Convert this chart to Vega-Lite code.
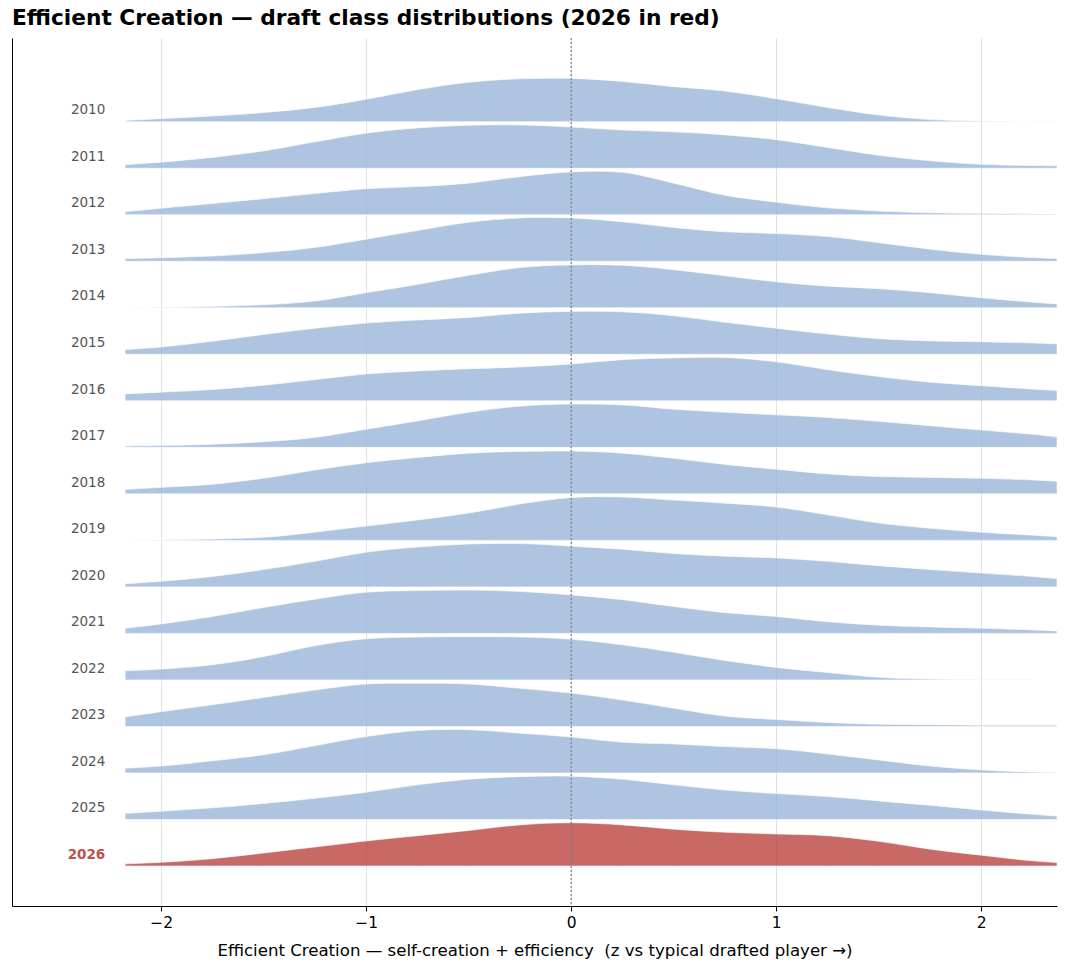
{
"$schema": "https://vega.github.io/schema/vega-lite/v6.json",
"width": 1045, "height": 868,
"autosize": {"type": "none"},
"padding": {"left": 12, "top": 38, "right": 10, "bottom": 66},
"background": "white",
"title": {"text": "Efficient Creation — draft class distributions (2026 in red)", "anchor": "start", "frame": "group", "fontSize": 21.7, "fontWeight": "bold", "font": "DejaVu Sans", "color": "#000000", "offset": -14.5, "baseline": "bottom"},
"config": {"font": "DejaVu Sans", "view": {"stroke": null},
 "axisX": {"domainColor": "#000000", "domainWidth": 1, "tickColor": "#000000", "tickSize": 5, "tickWidth": 1, "labelFontSize": 15.5, "labelColor": "#000000", "labelPadding": 4, "titleFontSize": 16.6, "titleFontWeight": "normal", "titleColor": "#000000", "titlePadding": 12, "grid": true, "gridColor": "#dde1e6", "gridWidth": 1, "labelFont": "DejaVu Sans", "titleFont": "DejaVu Sans"}},
"datasets": {"labels": [{"year":2010},{"year":2011},{"year":2012},{"year":2013},{"year":2014},{"year":2015},{"year":2016},{"year":2017},{"year":2018},{"year":2019},{"year":2020},{"year":2021},{"year":2022},{"year":2023},{"year":2024},{"year":2025},{"year":2026}],
"ridges": [
{"year":2010,"x":-2.176,"d":0.03},{"year":2010,"x":-2,"d":0.07},{"year":2010,"x":-1.75,"d":0.13},{"year":2010,"x":-1.5,"d":0.21},{"year":2010,"x":-1.25,"d":0.33},{"year":2010,"x":-1,"d":0.52},{"year":2010,"x":-0.75,"d":0.74},{"year":2010,"x":-0.5,"d":0.91},{"year":2010,"x":-0.25,"d":0.99},{"year":2010,"x":0,"d":1.0},{"year":2010,"x":0.25,"d":0.93},{"year":2010,"x":0.5,"d":0.81},{"year":2010,"x":0.75,"d":0.71},{"year":2010,"x":1,"d":0.53},{"year":2010,"x":1.25,"d":0.33},{"year":2010,"x":1.5,"d":0.155},{"year":2010,"x":1.75,"d":0.05},{"year":2010,"x":2,"d":0.015},{"year":2010,"x":2.25,"d":0.003},{"year":2010,"x":2.37,"d":0.001},
{"year":2011,"x":-2.176,"d":0.085},{"year":2011,"x":-2,"d":0.14},{"year":2011,"x":-1.75,"d":0.25},{"year":2011,"x":-1.5,"d":0.4},{"year":2011,"x":-1.25,"d":0.61},{"year":2011,"x":-1,"d":0.81},{"year":2011,"x":-0.75,"d":0.93},{"year":2011,"x":-0.5,"d":0.99},{"year":2011,"x":-0.25,"d":1.0},{"year":2011,"x":0,"d":0.95},{"year":2011,"x":0.25,"d":0.88},{"year":2011,"x":0.5,"d":0.84},{"year":2011,"x":0.75,"d":0.77},{"year":2011,"x":1,"d":0.66},{"year":2011,"x":1.25,"d":0.48},{"year":2011,"x":1.5,"d":0.3},{"year":2011,"x":1.75,"d":0.17},{"year":2011,"x":2,"d":0.09},{"year":2011,"x":2.25,"d":0.06},{"year":2011,"x":2.37,"d":0.055},
{"year":2012,"x":-2.176,"d":0.07},{"year":2012,"x":-2,"d":0.15},{"year":2012,"x":-1.75,"d":0.26},{"year":2012,"x":-1.5,"d":0.37},{"year":2012,"x":-1.25,"d":0.49},{"year":2012,"x":-1,"d":0.6},{"year":2012,"x":-0.75,"d":0.65},{"year":2012,"x":-0.5,"d":0.73},{"year":2012,"x":-0.25,"d":0.88},{"year":2012,"x":0,"d":0.99},{"year":2012,"x":0.25,"d":0.98},{"year":2012,"x":0.5,"d":0.73},{"year":2012,"x":0.75,"d":0.45},{"year":2012,"x":1,"d":0.29},{"year":2012,"x":1.25,"d":0.16},{"year":2012,"x":1.5,"d":0.085},{"year":2012,"x":1.75,"d":0.045},{"year":2012,"x":2,"d":0.03},{"year":2012,"x":2.25,"d":0.02},{"year":2012,"x":2.37,"d":0.015},
{"year":2013,"x":-2.176,"d":0.06},{"year":2013,"x":-2,"d":0.08},{"year":2013,"x":-1.75,"d":0.12},{"year":2013,"x":-1.5,"d":0.2},{"year":2013,"x":-1.25,"d":0.32},{"year":2013,"x":-1,"d":0.51},{"year":2013,"x":-0.75,"d":0.71},{"year":2013,"x":-0.5,"d":0.9},{"year":2013,"x":-0.25,"d":1.0},{"year":2013,"x":0,"d":1.0},{"year":2013,"x":0.25,"d":0.91},{"year":2013,"x":0.5,"d":0.78},{"year":2013,"x":0.75,"d":0.68},{"year":2013,"x":1,"d":0.64},{"year":2013,"x":1.25,"d":0.57},{"year":2013,"x":1.5,"d":0.43},{"year":2013,"x":1.75,"d":0.28},{"year":2013,"x":2,"d":0.16},{"year":2013,"x":2.25,"d":0.085},{"year":2013,"x":2.37,"d":0.06},
{"year":2014,"x":-2.176,"d":0.0},{"year":2014,"x":-2,"d":0.01},{"year":2014,"x":-1.75,"d":0.03},{"year":2014,"x":-1.5,"d":0.07},{"year":2014,"x":-1.25,"d":0.155},{"year":2014,"x":-1,"d":0.35},{"year":2014,"x":-0.75,"d":0.54},{"year":2014,"x":-0.5,"d":0.75},{"year":2014,"x":-0.25,"d":0.93},{"year":2014,"x":0,"d":0.99},{"year":2014,"x":0.25,"d":0.98},{"year":2014,"x":0.5,"d":0.88},{"year":2014,"x":0.75,"d":0.74},{"year":2014,"x":1,"d":0.6},{"year":2014,"x":1.25,"d":0.5},{"year":2014,"x":1.5,"d":0.44},{"year":2014,"x":1.75,"d":0.35},{"year":2014,"x":2,"d":0.23},{"year":2014,"x":2.25,"d":0.13},{"year":2014,"x":2.37,"d":0.09},
{"year":2015,"x":-2.176,"d":0.11},{"year":2015,"x":-2,"d":0.17},{"year":2015,"x":-1.75,"d":0.3},{"year":2015,"x":-1.5,"d":0.46},{"year":2015,"x":-1.25,"d":0.6},{"year":2015,"x":-1,"d":0.72},{"year":2015,"x":-0.75,"d":0.79},{"year":2015,"x":-0.5,"d":0.85},{"year":2015,"x":-0.25,"d":0.95},{"year":2015,"x":0,"d":0.99},{"year":2015,"x":0.25,"d":0.98},{"year":2015,"x":0.5,"d":0.89},{"year":2015,"x":0.75,"d":0.74},{"year":2015,"x":1,"d":0.6},{"year":2015,"x":1.25,"d":0.47},{"year":2015,"x":1.5,"d":0.36},{"year":2015,"x":1.75,"d":0.31},{"year":2015,"x":2,"d":0.29},{"year":2015,"x":2.25,"d":0.26},{"year":2015,"x":2.37,"d":0.24},
{"year":2016,"x":-2.176,"d":0.16},{"year":2016,"x":-2,"d":0.2},{"year":2016,"x":-1.75,"d":0.26},{"year":2016,"x":-1.5,"d":0.36},{"year":2016,"x":-1.25,"d":0.49},{"year":2016,"x":-1,"d":0.62},{"year":2016,"x":-0.75,"d":0.69},{"year":2016,"x":-0.5,"d":0.74},{"year":2016,"x":-0.25,"d":0.78},{"year":2016,"x":0,"d":0.85},{"year":2016,"x":0.25,"d":0.95},{"year":2016,"x":0.5,"d":0.99},{"year":2016,"x":0.75,"d":1.0},{"year":2016,"x":1,"d":0.9},{"year":2016,"x":1.25,"d":0.72},{"year":2016,"x":1.5,"d":0.56},{"year":2016,"x":1.75,"d":0.43},{"year":2016,"x":2,"d":0.35},{"year":2016,"x":2.25,"d":0.27},{"year":2016,"x":2.37,"d":0.24},
{"year":2017,"x":-2.176,"d":0.03},{"year":2017,"x":-2,"d":0.04},{"year":2017,"x":-1.75,"d":0.07},{"year":2017,"x":-1.5,"d":0.13},{"year":2017,"x":-1.25,"d":0.23},{"year":2017,"x":-1,"d":0.42},{"year":2017,"x":-0.75,"d":0.61},{"year":2017,"x":-0.5,"d":0.81},{"year":2017,"x":-0.25,"d":0.95},{"year":2017,"x":0,"d":1.0},{"year":2017,"x":0.25,"d":0.98},{"year":2017,"x":0.5,"d":0.88},{"year":2017,"x":0.75,"d":0.81},{"year":2017,"x":1,"d":0.75},{"year":2017,"x":1.25,"d":0.69},{"year":2017,"x":1.5,"d":0.6},{"year":2017,"x":1.75,"d":0.5},{"year":2017,"x":2,"d":0.4},{"year":2017,"x":2.25,"d":0.3},{"year":2017,"x":2.37,"d":0.24},
{"year":2018,"x":-2.176,"d":0.1},{"year":2018,"x":-2,"d":0.15},{"year":2018,"x":-1.75,"d":0.22},{"year":2018,"x":-1.5,"d":0.36},{"year":2018,"x":-1.25,"d":0.55},{"year":2018,"x":-1,"d":0.72},{"year":2018,"x":-0.75,"d":0.84},{"year":2018,"x":-0.5,"d":0.94},{"year":2018,"x":-0.25,"d":0.98},{"year":2018,"x":0,"d":0.99},{"year":2018,"x":0.25,"d":0.94},{"year":2018,"x":0.5,"d":0.82},{"year":2018,"x":0.75,"d":0.68},{"year":2018,"x":1,"d":0.57},{"year":2018,"x":1.25,"d":0.46},{"year":2018,"x":1.5,"d":0.4},{"year":2018,"x":1.75,"d":0.38},{"year":2018,"x":2,"d":0.36},{"year":2018,"x":2.25,"d":0.32},{"year":2018,"x":2.37,"d":0.29},
{"year":2019,"x":-2.176,"d":0.0},{"year":2019,"x":-2,"d":0.01},{"year":2019,"x":-1.75,"d":0.03},{"year":2019,"x":-1.5,"d":0.07},{"year":2019,"x":-1.25,"d":0.19},{"year":2019,"x":-1,"d":0.33},{"year":2019,"x":-0.75,"d":0.47},{"year":2019,"x":-0.5,"d":0.63},{"year":2019,"x":-0.25,"d":0.84},{"year":2019,"x":0,"d":0.99},{"year":2019,"x":0.25,"d":1.0},{"year":2019,"x":0.5,"d":0.93},{"year":2019,"x":0.75,"d":0.86},{"year":2019,"x":1,"d":0.77},{"year":2019,"x":1.25,"d":0.59},{"year":2019,"x":1.5,"d":0.4},{"year":2019,"x":1.75,"d":0.28},{"year":2019,"x":2,"d":0.19},{"year":2019,"x":2.25,"d":0.12},{"year":2019,"x":2.37,"d":0.085},
{"year":2020,"x":-2.176,"d":0.07},{"year":2020,"x":-2,"d":0.13},{"year":2020,"x":-1.75,"d":0.24},{"year":2020,"x":-1.5,"d":0.4},{"year":2020,"x":-1.25,"d":0.59},{"year":2020,"x":-1,"d":0.8},{"year":2020,"x":-0.75,"d":0.92},{"year":2020,"x":-0.5,"d":0.99},{"year":2020,"x":-0.25,"d":1.0},{"year":2020,"x":0,"d":0.94},{"year":2020,"x":0.25,"d":0.87},{"year":2020,"x":0.5,"d":0.77},{"year":2020,"x":0.75,"d":0.71},{"year":2020,"x":1,"d":0.67},{"year":2020,"x":1.25,"d":0.59},{"year":2020,"x":1.5,"d":0.49},{"year":2020,"x":1.75,"d":0.4},{"year":2020,"x":2,"d":0.32},{"year":2020,"x":2.25,"d":0.24},{"year":2020,"x":2.37,"d":0.19},
{"year":2021,"x":-2.176,"d":0.12},{"year":2021,"x":-2,"d":0.22},{"year":2021,"x":-1.75,"d":0.39},{"year":2021,"x":-1.5,"d":0.6},{"year":2021,"x":-1.25,"d":0.79},{"year":2021,"x":-1,"d":0.95},{"year":2021,"x":-0.75,"d":0.99},{"year":2021,"x":-0.5,"d":1.0},{"year":2021,"x":-0.25,"d":0.97},{"year":2021,"x":0,"d":0.89},{"year":2021,"x":0.25,"d":0.78},{"year":2021,"x":0.5,"d":0.62},{"year":2021,"x":0.75,"d":0.48},{"year":2021,"x":1,"d":0.39},{"year":2021,"x":1.25,"d":0.27},{"year":2021,"x":1.5,"d":0.19},{"year":2021,"x":1.75,"d":0.15},{"year":2021,"x":2,"d":0.12},{"year":2021,"x":2.25,"d":0.08},{"year":2021,"x":2.37,"d":0.055},
{"year":2022,"x":-2.176,"d":0.21},{"year":2022,"x":-2,"d":0.25},{"year":2022,"x":-1.75,"d":0.35},{"year":2022,"x":-1.5,"d":0.54},{"year":2022,"x":-1.25,"d":0.79},{"year":2022,"x":-1,"d":0.95},{"year":2022,"x":-0.75,"d":0.99},{"year":2022,"x":-0.5,"d":1.0},{"year":2022,"x":-0.25,"d":0.99},{"year":2022,"x":0,"d":0.94},{"year":2022,"x":0.25,"d":0.81},{"year":2022,"x":0.5,"d":0.64},{"year":2022,"x":0.75,"d":0.45},{"year":2022,"x":1,"d":0.29},{"year":2022,"x":1.25,"d":0.17},{"year":2022,"x":1.5,"d":0.06},{"year":2022,"x":1.75,"d":0.02},{"year":2022,"x":2,"d":0.005},{"year":2022,"x":2.25,"d":0.001},{"year":2022,"x":2.37,"d":0.0},
{"year":2023,"x":-2.176,"d":0.22},{"year":2023,"x":-2,"d":0.34},{"year":2023,"x":-1.75,"d":0.5},{"year":2023,"x":-1.5,"d":0.67},{"year":2023,"x":-1.25,"d":0.84},{"year":2023,"x":-1,"d":0.98},{"year":2023,"x":-0.75,"d":1.0},{"year":2023,"x":-0.5,"d":0.98},{"year":2023,"x":-0.25,"d":0.88},{"year":2023,"x":0,"d":0.77},{"year":2023,"x":0.25,"d":0.61},{"year":2023,"x":0.5,"d":0.42},{"year":2023,"x":0.75,"d":0.24},{"year":2023,"x":1,"d":0.16},{"year":2023,"x":1.25,"d":0.09},{"year":2023,"x":1.5,"d":0.05},{"year":2023,"x":1.75,"d":0.04},{"year":2023,"x":2,"d":0.03},{"year":2023,"x":2.25,"d":0.03},{"year":2023,"x":2.37,"d":0.03},
{"year":2024,"x":-2.176,"d":0.11},{"year":2024,"x":-2,"d":0.16},{"year":2024,"x":-1.75,"d":0.28},{"year":2024,"x":-1.5,"d":0.42},{"year":2024,"x":-1.25,"d":0.63},{"year":2024,"x":-1,"d":0.84},{"year":2024,"x":-0.75,"d":0.98},{"year":2024,"x":-0.5,"d":1.0},{"year":2024,"x":-0.25,"d":0.92},{"year":2024,"x":0,"d":0.83},{"year":2024,"x":0.25,"d":0.71},{"year":2024,"x":0.5,"d":0.67},{"year":2024,"x":0.75,"d":0.61},{"year":2024,"x":1,"d":0.56},{"year":2024,"x":1.25,"d":0.44},{"year":2024,"x":1.5,"d":0.3},{"year":2024,"x":1.75,"d":0.16},{"year":2024,"x":2,"d":0.07},{"year":2024,"x":2.25,"d":0.02},{"year":2024,"x":2.37,"d":0.01},
{"year":2025,"x":-2.176,"d":0.14},{"year":2025,"x":-2,"d":0.19},{"year":2025,"x":-1.75,"d":0.27},{"year":2025,"x":-1.5,"d":0.37},{"year":2025,"x":-1.25,"d":0.49},{"year":2025,"x":-1,"d":0.63},{"year":2025,"x":-0.75,"d":0.8},{"year":2025,"x":-0.5,"d":0.93},{"year":2025,"x":-0.25,"d":0.99},{"year":2025,"x":0,"d":1.0},{"year":2025,"x":0.25,"d":0.93},{"year":2025,"x":0.5,"d":0.8},{"year":2025,"x":0.75,"d":0.68},{"year":2025,"x":1,"d":0.6},{"year":2025,"x":1.25,"d":0.53},{"year":2025,"x":1.5,"d":0.43},{"year":2025,"x":1.75,"d":0.33},{"year":2025,"x":2,"d":0.22},{"year":2025,"x":2.25,"d":0.12},{"year":2025,"x":2.37,"d":0.08},
{"year":2026,"x":-2.176,"d":0.05},{"year":2026,"x":-2,"d":0.085},{"year":2026,"x":-1.75,"d":0.17},{"year":2026,"x":-1.5,"d":0.3},{"year":2026,"x":-1.25,"d":0.44},{"year":2026,"x":-1,"d":0.58},{"year":2026,"x":-0.75,"d":0.7},{"year":2026,"x":-0.5,"d":0.82},{"year":2026,"x":-0.25,"d":0.95},{"year":2026,"x":0,"d":1.0},{"year":2026,"x":0.25,"d":0.95},{"year":2026,"x":0.5,"d":0.85},{"year":2026,"x":0.75,"d":0.78},{"year":2026,"x":1,"d":0.74},{"year":2026,"x":1.25,"d":0.7},{"year":2026,"x":1.5,"d":0.57},{"year":2026,"x":1.75,"d":0.39},{"year":2026,"x":2,"d":0.25},{"year":2026,"x":2.25,"d":0.12},{"year":2026,"x":2.37,"d":0.08}
]},
"data": {"name": "ridges"},
"resolve": {"scale": {"y": "independent"}},
"layer": [
{"transform":[{"filter":"datum.year==2010"}],"mark":{"type":"area","interpolate":"catmull-rom","fill":"#9ab5d8","fillOpacity":0.8,"stroke":"#ffffff","strokeWidth":0.8,"strokeOpacity":0.7},"encoding":{"x":{"field":"x","type":"quantitative","scale":{"domain":[-2.728,2.37],"nice":false,"zero":false},"axis":{"values":[-2,-1,0,1,2],"format":"d","title":"Efficient Creation — self-creation + efficiency \u00a0(z vs typical drafted player →)"}},"y":{"field":"d","type":"quantitative","scale":{"domain":[-18.1132,1.933],"nice":false,"zero":false},"axis":{"title":null,"labels":false,"ticks":false,"grid":false,"domain":true,"domainColor":"#000000","domainWidth":1}}}},
{"transform":[{"filter":"datum.year==2011"}],"mark":{"type":"area","interpolate":"catmull-rom","fill":"#9ab5d8","fillOpacity":0.8,"stroke":"#ffffff","strokeWidth":0.8,"strokeOpacity":0.7},"encoding":{"x":{"field":"x","type":"quantitative","title":"Efficient Creation — self-creation + efficiency \u00a0(z vs typical drafted player →)"},"y":{"field":"d","type":"quantitative","scale":{"domain":[-17.0388,3.0074],"nice":false,"zero":false},"axis":null}}},
{"transform":[{"filter":"datum.year==2012"}],"mark":{"type":"area","interpolate":"catmull-rom","fill":"#9ab5d8","fillOpacity":0.8,"stroke":"#ffffff","strokeWidth":0.8,"strokeOpacity":0.7},"encoding":{"x":{"field":"x","type":"quantitative","title":"Efficient Creation — self-creation + efficiency \u00a0(z vs typical drafted player →)"},"y":{"field":"d","type":"quantitative","scale":{"domain":[-15.9644,4.0818],"nice":false,"zero":false},"axis":null}}},
{"transform":[{"filter":"datum.year==2013"}],"mark":{"type":"area","interpolate":"catmull-rom","fill":"#9ab5d8","fillOpacity":0.8,"stroke":"#ffffff","strokeWidth":0.8,"strokeOpacity":0.7},"encoding":{"x":{"field":"x","type":"quantitative","title":"Efficient Creation — self-creation + efficiency \u00a0(z vs typical drafted player →)"},"y":{"field":"d","type":"quantitative","scale":{"domain":[-14.8901,5.1561],"nice":false,"zero":false},"axis":null}}},
{"transform":[{"filter":"datum.year==2014"}],"mark":{"type":"area","interpolate":"catmull-rom","fill":"#9ab5d8","fillOpacity":0.8,"stroke":"#ffffff","strokeWidth":0.8,"strokeOpacity":0.7},"encoding":{"x":{"field":"x","type":"quantitative","title":"Efficient Creation — self-creation + efficiency \u00a0(z vs typical drafted player →)"},"y":{"field":"d","type":"quantitative","scale":{"domain":[-13.8157,6.2305],"nice":false,"zero":false},"axis":null}}},
{"transform":[{"filter":"datum.year==2015"}],"mark":{"type":"area","interpolate":"catmull-rom","fill":"#9ab5d8","fillOpacity":0.8,"stroke":"#ffffff","strokeWidth":0.8,"strokeOpacity":0.7},"encoding":{"x":{"field":"x","type":"quantitative","title":"Efficient Creation — self-creation + efficiency \u00a0(z vs typical drafted player →)"},"y":{"field":"d","type":"quantitative","scale":{"domain":[-12.7413,7.3048],"nice":false,"zero":false},"axis":null}}},
{"transform":[{"filter":"datum.year==2016"}],"mark":{"type":"area","interpolate":"catmull-rom","fill":"#9ab5d8","fillOpacity":0.8,"stroke":"#ffffff","strokeWidth":0.8,"strokeOpacity":0.7},"encoding":{"x":{"field":"x","type":"quantitative","title":"Efficient Creation — self-creation + efficiency \u00a0(z vs typical drafted player →)"},"y":{"field":"d","type":"quantitative","scale":{"domain":[-11.667,8.3792],"nice":false,"zero":false},"axis":null}}},
{"transform":[{"filter":"datum.year==2017"}],"mark":{"type":"area","interpolate":"catmull-rom","fill":"#9ab5d8","fillOpacity":0.8,"stroke":"#ffffff","strokeWidth":0.8,"strokeOpacity":0.7},"encoding":{"x":{"field":"x","type":"quantitative","title":"Efficient Creation — self-creation + efficiency \u00a0(z vs typical drafted player →)"},"y":{"field":"d","type":"quantitative","scale":{"domain":[-10.5926,9.4536],"nice":false,"zero":false},"axis":null}}},
{"transform":[{"filter":"datum.year==2018"}],"mark":{"type":"area","interpolate":"catmull-rom","fill":"#9ab5d8","fillOpacity":0.8,"stroke":"#ffffff","strokeWidth":0.8,"strokeOpacity":0.7},"encoding":{"x":{"field":"x","type":"quantitative","title":"Efficient Creation — self-creation + efficiency \u00a0(z vs typical drafted player →)"},"y":{"field":"d","type":"quantitative","scale":{"domain":[-9.5182,10.5279],"nice":false,"zero":false},"axis":null}}},
{"transform":[{"filter":"datum.year==2019"}],"mark":{"type":"area","interpolate":"catmull-rom","fill":"#9ab5d8","fillOpacity":0.8,"stroke":"#ffffff","strokeWidth":0.8,"strokeOpacity":0.7},"encoding":{"x":{"field":"x","type":"quantitative","title":"Efficient Creation — self-creation + efficiency \u00a0(z vs typical drafted player →)"},"y":{"field":"d","type":"quantitative","scale":{"domain":[-8.4439,11.6023],"nice":false,"zero":false},"axis":null}}},
{"transform":[{"filter":"datum.year==2020"}],"mark":{"type":"area","interpolate":"catmull-rom","fill":"#9ab5d8","fillOpacity":0.8,"stroke":"#ffffff","strokeWidth":0.8,"strokeOpacity":0.7},"encoding":{"x":{"field":"x","type":"quantitative","title":"Efficient Creation — self-creation + efficiency \u00a0(z vs typical drafted player →)"},"y":{"field":"d","type":"quantitative","scale":{"domain":[-7.3695,12.6767],"nice":false,"zero":false},"axis":null}}},
{"transform":[{"filter":"datum.year==2021"}],"mark":{"type":"area","interpolate":"catmull-rom","fill":"#9ab5d8","fillOpacity":0.8,"stroke":"#ffffff","strokeWidth":0.8,"strokeOpacity":0.7},"encoding":{"x":{"field":"x","type":"quantitative","title":"Efficient Creation — self-creation + efficiency \u00a0(z vs typical drafted player →)"},"y":{"field":"d","type":"quantitative","scale":{"domain":[-6.2952,13.751],"nice":false,"zero":false},"axis":null}}},
{"transform":[{"filter":"datum.year==2022"}],"mark":{"type":"area","interpolate":"catmull-rom","fill":"#9ab5d8","fillOpacity":0.8,"stroke":"#ffffff","strokeWidth":0.8,"strokeOpacity":0.7},"encoding":{"x":{"field":"x","type":"quantitative","title":"Efficient Creation — self-creation + efficiency \u00a0(z vs typical drafted player →)"},"y":{"field":"d","type":"quantitative","scale":{"domain":[-5.2208,14.8254],"nice":false,"zero":false},"axis":null}}},
{"transform":[{"filter":"datum.year==2023"}],"mark":{"type":"area","interpolate":"catmull-rom","fill":"#9ab5d8","fillOpacity":0.8,"stroke":"#ffffff","strokeWidth":0.8,"strokeOpacity":0.7},"encoding":{"x":{"field":"x","type":"quantitative","title":"Efficient Creation — self-creation + efficiency \u00a0(z vs typical drafted player →)"},"y":{"field":"d","type":"quantitative","scale":{"domain":[-4.1464,15.8998],"nice":false,"zero":false},"axis":null}}},
{"transform":[{"filter":"datum.year==2024"}],"mark":{"type":"area","interpolate":"catmull-rom","fill":"#9ab5d8","fillOpacity":0.8,"stroke":"#ffffff","strokeWidth":0.8,"strokeOpacity":0.7},"encoding":{"x":{"field":"x","type":"quantitative","title":"Efficient Creation — self-creation + efficiency \u00a0(z vs typical drafted player →)"},"y":{"field":"d","type":"quantitative","scale":{"domain":[-3.0721,16.9741],"nice":false,"zero":false},"axis":null}}},
{"transform":[{"filter":"datum.year==2025"}],"mark":{"type":"area","interpolate":"catmull-rom","fill":"#9ab5d8","fillOpacity":0.8,"stroke":"#ffffff","strokeWidth":0.8,"strokeOpacity":0.7},"encoding":{"x":{"field":"x","type":"quantitative","title":"Efficient Creation — self-creation + efficiency \u00a0(z vs typical drafted player →)"},"y":{"field":"d","type":"quantitative","scale":{"domain":[-1.9977,18.0485],"nice":false,"zero":false},"axis":null}}},
{"transform":[{"filter":"datum.year==2026"}],"mark":{"type":"area","interpolate":"catmull-rom","fill":"#ba4440","fillOpacity":0.8,"stroke":"#ffffff","strokeWidth":0.8,"strokeOpacity":0.7},"encoding":{"x":{"field":"x","type":"quantitative","title":"Efficient Creation — self-creation + efficiency \u00a0(z vs typical drafted player →)"},"y":{"field":"d","type":"quantitative","scale":{"domain":[-0.9233,19.1229],"nice":false,"zero":false},"axis":null}}},
{"data":{"name":"labels"},
 "encoding":{"x":{"datum":-2.273,"type":"quantitative"},"y":{"field":"year","type":"quantitative","scale":{"domain":[2008.4465,2027.0971],"reverse":true,"nice":false,"zero":false},"axis":null},"text":{"field":"year","type":"nominal"}},
 "layer":[
  {"transform":[{"filter":"datum.year != 2026"}],"mark":{"type":"text","align":"right","baseline":"middle","fontSize":13.5,"color":"#555555","font":"DejaVu Sans"}},
  {"transform":[{"filter":"datum.year == 2026"}],"mark":{"type":"text","align":"right","baseline":"middle","fontSize":13.5,"fontWeight":"bold","color":"#c0504d","font":"DejaVu Sans"}}
 ]},
{"data":{"values":[{"ref":0}]},"mark":{"type":"rule","stroke":"#808080","strokeWidth":1.2,"strokeDash":[2,2]},"encoding":{"x":{"datum":0}}}
]
}
